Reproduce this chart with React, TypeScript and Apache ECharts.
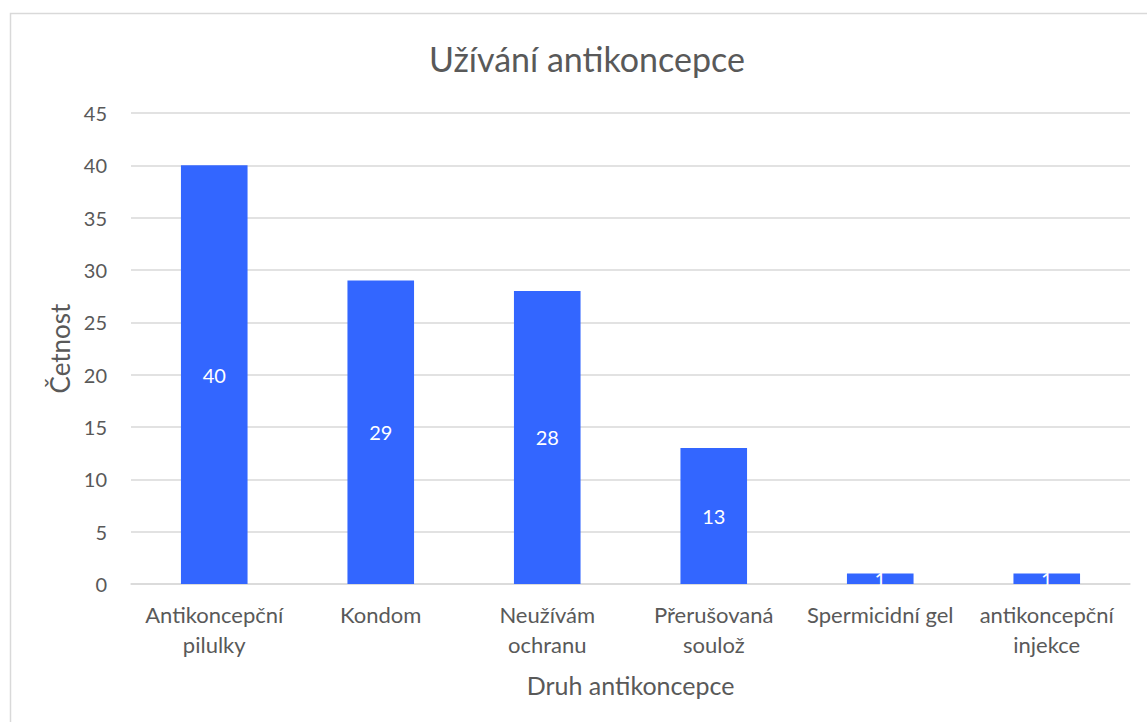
import React, { useEffect, useRef } from "react";
import * as echarts from "echarts";

const categories = [
  "Antikoncepční\npilulky",
  "Kondom",
  "Neužívám\nochranu",
  "Přerušovaná\nsoulož",
  "Spermicidní gel",
  "antikoncepční\ninjekce",
];
const values = [40, 29, 28, 13, 1, 1];
const yTicks = { min: 0, max: 45, interval: 5 };

export default function App() {
  const ref = useRef<HTMLDivElement>(null);
  useEffect(() => {
    const chart = echarts.init(ref.current!, null, { renderer: "svg" });
    const font = "Lato, 'Open Sans', sans-serif";
    chart.setOption({
      animation: false,
      backgroundColor: "#ffffff",
      textStyle: { fontFamily: font },
      title: {
        text: "Užívání antikoncepce",
        left: 582,
        top: 36,
        textAlign: "center",
        textStyle: { fontFamily: font, fontSize: 34, fontWeight: "normal", color: "#595959" },
      },
      graphic: [
        {
          type: "rect",
          shape: { x: 10.5, y: 13.5, width: 1160, height: 740 },
          style: { fill: "none", stroke: "#d9d9d9", lineWidth: 1.5 },
          silent: true,
        },
      ],
      grid: { left: 131, right: 17, top: 113, bottom: 138 },
      xAxis: {
        type: "category",
        data: categories,
        name: "Druh antikoncepce",
        nameLocation: "middle",
        nameGap: 88,
        nameTextStyle: { fontFamily: font, fontSize: 25, color: "#595959" },
        axisLine: { show: true, lineStyle: { color: "#d9d9d9", width: 1.5 } },
        axisTick: { show: false },
        axisLabel: {
          interval: 0,
          margin: 15,
          fontFamily: font,
          fontSize: 22,
          lineHeight: 30,
          color: "#595959",
          verticalAlign: "top",
        },
      },
      yAxis: {
        type: "value",
        min: yTicks.min,
        max: yTicks.max,
        interval: yTicks.interval,
        name: "Četnost",
        nameLocation: "middle",
        nameGap: 58,
        nameTextStyle: { fontFamily: font, fontSize: 26, color: "#595959" },
        axisLine: { show: false },
        axisTick: { show: false },
        axisLabel: { margin: 24, fontFamily: font, fontSize: 20, color: "#595959" },
        splitLine: { lineStyle: { color: "#d9d9d9", width: 1.5 } },
      },
      series: [
        {
          type: "bar",
          data: values,
          barWidth: "40%",
          itemStyle: { color: "#3366ff" },
          label: {
            show: true,
            position: "inside",
            color: "#ffffff",
            fontFamily: font,
            fontSize: 20,
          },
        },
      ],
    });
    return () => chart.dispose();
  }, []);
  return <div ref={ref} style={{ width: 1147, height: 722, position: "absolute", left: 0, top: 0 }} />;
}
